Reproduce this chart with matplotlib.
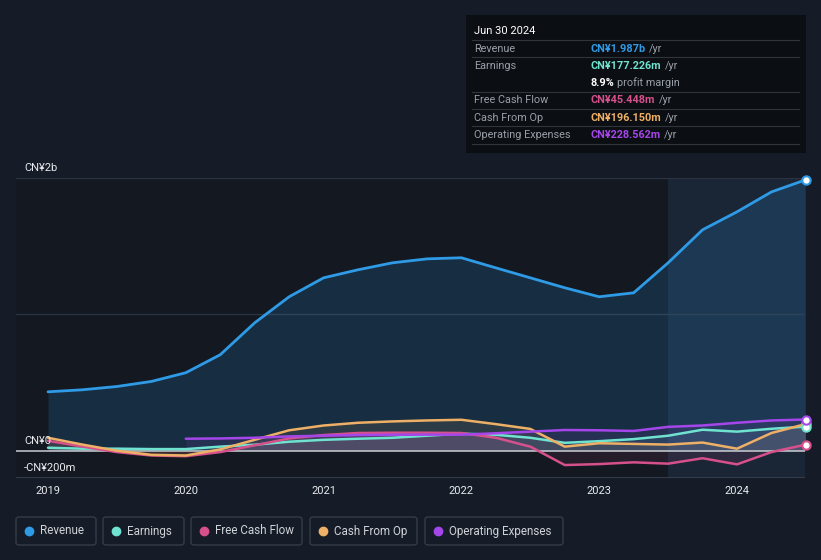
import numpy as np
import matplotlib
matplotlib.use("Agg")
import matplotlib.pyplot as plt
from matplotlib.patches import Rectangle, FancyBboxPatch

plt.rcParams['font.family'] = ['Roboto', 'DejaVu Sans']

# ---------------- data (CN¥ millions) ----------------
t = [2019.0, 2019.25, 2019.5, 2019.75, 2020.0, 2020.25, 2020.5, 2020.75,
     2021.0, 2021.25, 2021.5, 2021.75, 2022.0, 2022.25, 2022.5, 2022.75,
     2023.0, 2023.25, 2023.5, 2023.75, 2024.0, 2024.25, 2024.5]
revenue = [432, 447, 471, 508, 572, 704, 938, 1129,
           1268, 1327, 1378, 1407, 1415, 1341, 1268, 1195,
           1129, 1158, 1378, 1620, 1752, 1898, 1987]
earnings = [22, 15, 15, 12, 12, 30, 44, 66,
            80, 88, 95, 110, 125, 117, 95, 58,
            70, 85, 110, 154, 140, 161, 177]
fcf = [73, 30, -10, -35, -40, -10, 40, 90,
       115, 130, 132, 132, 130, 95, 30, -105,
       -98, -85, -95, -55, -100, -10, 45]
cfo = [95, 45, 0, -30, -35, 10, 80, 150,
       185, 205, 215, 222, 227, 195, 160, 30,
       55, 50, 45, 60, 15, 130, 196]
t_opex = [2020.0, 2020.25, 2020.5, 2020.75, 2021.0, 2021.25, 2021.5, 2021.75,
          2022.0, 2022.25, 2022.5, 2022.75, 2023.0, 2023.25, 2023.5, 2023.75,
          2024.0, 2024.25, 2024.5]
opex = [88, 90, 95, 105, 110, 115, 117, 118,
        118, 128, 140, 152, 150, 145, 175, 185,
        205, 222, 229]

years = [2019, 2020, 2021, 2022, 2023, 2024]
year_labels = ['2019', '2020', '2021', '2022', '2023', '2024']
ytick_vals = [2000, 0, -200]
ytick_labels = ['CN¥2b', 'CN¥0', '-CN¥200m']

series_names = ['Revenue', 'Earnings', 'Free Cash Flow', 'Cash From Op', 'Operating Expenses']
tooltip_values = ['CN¥1.987b', 'CN¥177.226m', 'CN¥45.448m', 'CN¥196.150m', 'CN¥228.562m']

# ---------------- style ----------------
BG = '#161c27'
C_REV = '#2f9be6'
C_EARN = '#6fe3d0'
C_FCF = '#d6508c'
C_CFO = '#eeb066'
C_OPEX = '#a546ea'

W, H = 821, 560
fig = plt.figure(figsize=(W / 100, H / 100), dpi=100)
fig.patch.set_facecolor(BG)

def fx(x):
    return x / W

def fy(y):
    return 1 - y / H

ax_l, ax_r, ax_t, ax_b = 16, 805, 178, 478
ax = fig.add_axes([fx(ax_l), fy(ax_b), fx(ax_r - ax_l), (ax_b - ax_t) / H])
ax.set_facecolor('#131821')
x0 = 2019 - 32 / 137.8
x1 = 2019 + (ax_r - 48) / 137.8
ax.set_xlim(x0, x1)
ax.set_ylim(-200, 2000)
for s in ax.spines.values():
    s.set_visible(False)
ax.set_xticks([])
ax.set_yticks([])

# highlight last year
ax.axvspan(2023.5, x1, color='#1a2536', zorder=0, lw=0)

# grid lines
for gv in [2000, 1000]:
    ax.axhline(gv, color='#2b3340', lw=1, zorder=1)
ax.axhline(-200, color='#3a4250', lw=1.2, zorder=1)

# revenue
ax.fill_between(t, revenue, 0, color=C_REV, alpha=0.17, lw=0, zorder=2)
ax.plot(t, revenue, color=C_REV, lw=2.0, zorder=6, solid_capstyle='round',
        solid_joinstyle='round')

# low series fills
for xs, ys, c in [(t, earnings, C_EARN), (t, fcf, C_FCF), (t, cfo, C_CFO), (t_opex, opex, C_OPEX)]:
    ax.fill_between(xs, ys, 0, color=c, alpha=0.10, lw=0, zorder=3)

ax.axhline(0, color='#c9ccd1', lw=1.1, zorder=4)

for xs, ys, c in [(t, earnings, C_EARN), (t, fcf, C_FCF), (t, cfo, C_CFO), (t_opex, opex, C_OPEX)]:
    ax.plot(xs, ys, color=c, lw=1.8, zorder=5, solid_capstyle='round',
            solid_joinstyle='round')

# endpoint markers
for ys, c in [(revenue, C_REV), (fcf, C_FCF), (cfo, C_CFO), (earnings, C_EARN), (opex, C_OPEX)]:
    ax.plot([t[-1]], [ys[-1]], marker='o', ms=6, mfc='white', mec=c, mew=1.5,
            zorder=7, clip_on=False)

# y labels
for v, lab in zip(ytick_vals, ytick_labels):
    ypix = 178 + (2000 - v) / 2200 * 300
    fig.text(fx(24), fy(ypix - 5), lab, color='#e8eaed', fontsize=8,
             ha='left', va='bottom')

# x labels
for yv, lab in zip(years, year_labels):
    xpix = 48 + (yv - 2019) * 137.8
    fig.text(fx(xpix), fy(491), lab, color='#e8eaed', fontsize=8,
             ha='center', va='center')

# ---------------- tooltip ----------------
fig.add_artist(Rectangle((fx(466), fy(153)), fx(806 - 466), (153 - 15) / H,
                         transform=fig.transFigure, facecolor='#0b0e13',
                         edgecolor='none', zorder=10))
fig.text(fx(474), fy(31), 'Jun 30 2024', color='white', fontsize=8,
         ha='left', va='center', zorder=11)
for ysep in [40, 57, 92, 109, 126, 144]:
    fig.add_artist(plt.Line2D([fx(472), fx(799)], [fy(ysep), fy(ysep)],
                              transform=fig.transFigure, color='#30343b', lw=0.8, zorder=11))
rows = [(49, series_names[0], tooltip_values[0], C_REV),
        (66, series_names[1], tooltip_values[1], C_EARN),
        (100, series_names[2], tooltip_values[2], C_FCF),
        (118, series_names[3], tooltip_values[3], C_CFO),
        (135, series_names[4], tooltip_values[4], C_OPEX)]
renderer = fig.canvas.get_renderer()
FS = 7.8
for yy, lab, val, c in rows:
    fig.text(fx(474), fy(yy), lab, color='#9aa0a8', fontsize=FS, ha='left', va='center', zorder=11)
    tv = fig.text(fx(590), fy(yy), val, color=c, fontsize=FS, fontweight='bold',
                  ha='left', va='center', zorder=11)
    bb = tv.get_window_extent(renderer=renderer)
    fig.text((bb.x1 + 4) / W, fy(yy), '/yr', color='#9aa0a8', fontsize=FS,
             ha='left', va='center', zorder=11)
tm = fig.text(fx(590), fy(83), '8.9%', color='white', fontsize=FS, fontweight='bold',
              ha='left', va='center', zorder=11)
bb = tm.get_window_extent(renderer=renderer)
fig.text((bb.x1 + 3) / W, fy(83), 'profit margin', color='#9aa0a8', fontsize=FS,
         ha='left', va='center', zorder=11)

# ---------------- legend ----------------
leg_boxes = [(16, 96), (103, 184), (191, 302), (310, 417), (425, 563)]
leg_colors = [C_REV, C_EARN, C_FCF, C_CFO, C_OPEX]
for (xa, xb), name, c in zip(leg_boxes, series_names, leg_colors):
    fig.add_artist(FancyBboxPatch((fx(xa), fy(545)), fx(xb - xa), 28 / H,
                                  boxstyle='round,pad=0,rounding_size=0.004',
                                  transform=fig.transFigure, facecolor='none',
                                  edgecolor='#3a404a', lw=0.9))
    fig.add_artist(plt.Line2D([fx(xa + 13)], [fy(531)], marker='o', ms=6,
                              color=c, transform=fig.transFigure, lw=0))
    fig.text(fx(xa + 24), fy(531), name, color='#d0d3d8', fontsize=8.4,
             ha='left', va='center')

fig.savefig('out.png', dpi=100, facecolor=BG)
